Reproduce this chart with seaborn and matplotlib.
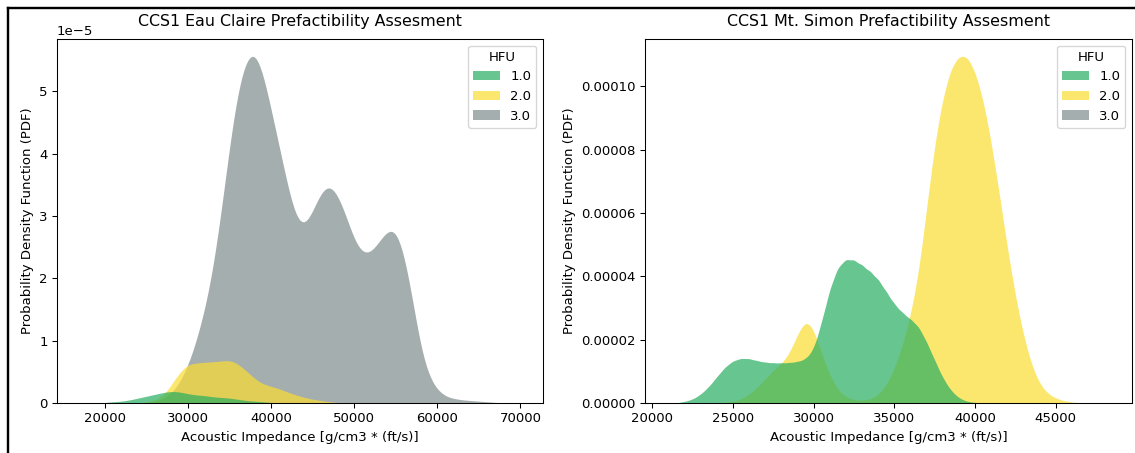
import pandas as pd
import matplotlib
matplotlib.use("Agg")
import matplotlib.pyplot as plt
from matplotlib.lines import Line2D
import seaborn as sns

# ---------------------------------------------------------------
# Eau Claire: density readings (x1e-5) on evenly spaced impedances
# ---------------------------------------------------------------
ec_imp_hfu1 = [20000, 20500, 21000, 21500, 22000, 22500, 23000, 23500, 24000,
               24500, 25000, 25500, 26000, 26500, 27000, 27500, 28000, 28500,
               29000, 29500, 30000, 30500, 31000, 31500, 32000, 32500, 33000,
               33500, 34000, 34500, 35000, 35500, 36000, 36500, 37000, 37500,
               38000, 38500, 39000, 39500, 40000]
ec_pdf_hfu1 = [0.01, 0.015, 0.02, 0.025, 0.03, 0.04, 0.05, 0.065, 0.08, 0.095,
               0.11, 0.125, 0.14, 0.155, 0.17, 0.18, 0.19, 0.185, 0.18, 0.165,
               0.15, 0.14, 0.13, 0.125, 0.12, 0.11, 0.10, 0.095, 0.09, 0.085,
               0.08, 0.07, 0.06, 0.05, 0.04, 0.035, 0.03, 0.025, 0.02, 0.015,
               0.01]

ec_imp_hfu2 = [25000, 25500, 26000, 26500, 27000, 27500, 28000, 28500, 29000,
               29500, 30000, 30500, 31000, 31500, 32000, 32500, 33000, 33500,
               34000, 34500, 35000, 35500, 36000, 36500, 37000, 37500, 38000,
               38500, 39000, 39500, 40000, 40500, 41000, 41500, 42000, 42500,
               43000, 43500, 44000, 44500, 45000, 45500, 46000, 46500, 47000,
               47500, 48000]
ec_pdf_hfu2 = [0.02, 0.03, 0.05, 0.08, 0.13, 0.20, 0.30, 0.40, 0.50, 0.57,
               0.62, 0.64, 0.65, 0.655, 0.66, 0.665, 0.67, 0.675, 0.68, 0.69,
               0.69, 0.67, 0.63, 0.58, 0.52, 0.46, 0.40, 0.35, 0.31, 0.29,
               0.27, 0.25, 0.23, 0.20, 0.18, 0.15, 0.13, 0.11, 0.09, 0.075,
               0.06, 0.05, 0.04, 0.03, 0.02, 0.015, 0.01]

ec_imp_hfu3 = [26000, 27000, 28000, 29000, 30000, 31000, 32000, 33000, 34000,
               35000, 36000, 37000, 38000, 39000, 40000, 41000, 42000, 43000,
               44000, 45000, 46000, 47000, 48000, 49000, 50000, 51000, 52000,
               53000, 54000, 55000, 56000, 57000, 58000, 59000, 60000, 61000,
               62000, 63000, 64000, 65000, 66000, 67000]
ec_pdf_hfu3 = [0.02, 0.06, 0.15, 0.32, 0.60, 1.00, 1.50, 2.15, 3.10, 4.20,
               5.12, 5.62, 5.76, 5.40, 4.75, 4.15, 3.50, 2.95, 2.82, 3.10,
               3.45, 3.58, 3.40, 3.05, 2.62, 2.40, 2.42, 2.62, 2.82, 2.86,
               2.45, 1.70, 0.85, 0.40, 0.20, 0.10, 0.07, 0.05, 0.04, 0.03,
               0.02, 0.01]

# ---------------------------------------------------------------
# Mt. Simon: density readings (x1e-5) on evenly spaced impedances
# ---------------------------------------------------------------
ms_imp_hfu1 = [22000, 22500, 23000, 23500, 24000, 24500, 25000, 25500, 26000,
               26500, 27000, 27500, 28000, 28500, 29000, 29500, 30000, 30500,
               31000, 31500, 32000, 32500, 33000, 33500, 34000, 34500, 35000,
               35500, 36000, 36500, 37000, 37500, 38000, 38500, 39000, 39500,
               40000]
ms_pdf_hfu1 = [0.05, 0.12, 0.28, 0.52, 0.84, 1.15, 1.35, 1.43, 1.42, 1.35,
               1.30, 1.28, 1.28, 1.29, 1.32, 1.40, 1.70, 2.60, 3.65, 4.35,
               4.60, 4.57, 4.40, 4.20, 3.95, 3.55, 3.15, 2.88, 2.68, 2.45,
               1.95, 1.37, 0.80, 0.40, 0.16, 0.05, 0.02]

ms_imp_hfu2 = [24000, 24500, 25000, 25500, 26000, 26500, 27000, 27500, 28000,
               28500, 29000, 29500, 30000, 30500, 31000, 31500, 32000, 32500,
               33000, 33500, 34000, 34500, 35000, 35500, 36000, 36500, 37000,
               37500, 38000, 38500, 39000, 39500, 40000, 40500, 41000, 41500,
               42000, 42500, 43000, 43500, 44000, 44500, 45000, 45500, 46000,
               46500]
ms_pdf_hfu2 = [0.01, 0.02, 0.05, 0.12, 0.27, 0.50, 0.77, 1.05, 1.25, 1.57,
               2.20, 2.70, 2.40, 1.55, 0.88, 0.40, 0.18, 0.10, 0.08, 0.12,
               0.25, 0.55, 1.10, 1.80, 2.80, 4.10, 6.20, 8.30, 9.75, 10.70,
               11.10, 11.10, 10.60, 9.70, 8.35, 6.70, 4.95, 3.40, 2.15, 1.20,
               0.60, 0.30, 0.15, 0.07, 0.03, 0.01]

HFU_ORDER = [1.0, 2.0, 3.0]
HFU_COLORS = {1.0: "#27ae60", 2.0: "#fcdd30", 3.0: "#7f8c8d"}

TITLE_EC = "CCS1 Eau Claire Prefactibility Assesment"
TITLE_MS = "CCS1 Mt. Simon Prefactibility Assesment"
XLABEL = "Acoustic Impedance [g/cm3 * (ft/s)]"
YLABEL = "Probability Density Function (PDF)"


def build_frame(groups):
    """Long-form table; each reading weighted by density x sample spacing."""
    parts = []
    for hfu, imp, pdf in groups:
        step = imp[1] - imp[0]
        parts.append(pd.DataFrame({"impedance": imp,
                                   "weight": [p * step for p in pdf],
                                   "HFU": hfu}))
    return pd.concat(parts, ignore_index=True)


eau_claire = build_frame([(1.0, ec_imp_hfu1, ec_pdf_hfu1),
                          (2.0, ec_imp_hfu2, ec_pdf_hfu2),
                          (3.0, ec_imp_hfu3, ec_pdf_hfu3)])
mt_simon = build_frame([(1.0, ms_imp_hfu1, ms_pdf_hfu1),
                        (2.0, ms_imp_hfu2, ms_pdf_hfu2)])

W, H, DPI = 1135, 453, 95
fig = plt.figure(figsize=(W / DPI, H / DPI), dpi=DPI)
ax1 = fig.add_axes([57 / W, 50 / H, 486 / W, 364 / H])
ax2 = fig.add_axes([645 / W, 50 / H, 487 / W, 364 / H])

panels = [
    (ax1, eau_claire, TITLE_EC, 0.2, (14226, 72712)),
    (ax2, mt_simon, TITLE_MS, 0.15, (19550, 49730)),
]
for ax, df, title, bw, xlim in panels:
    sns.kdeplot(data=df, x="impedance", hue="HFU", weights="weight",
                hue_order=HFU_ORDER, palette=HFU_COLORS, fill=True,
                alpha=0.7, linewidth=0, common_norm=True, bw_adjust=bw,
                ax=ax)
    ax.set_xlim(*xlim)
    ax.set_title(title, pad=10)
    ax.set_xlabel(XLABEL)
    ax.set_ylabel(YLABEL)
    sns.move_legend(ax, "upper right", title="HFU")

# frame lines along the top and left edges of the canvas
lw = 2.4 * 72 / DPI
fig.add_artist(Line2D([7.5 / W, 1.0], [1 - 7.5 / H, 1 - 7.5 / H],
                      transform=fig.transFigure, color="black", lw=lw))
fig.add_artist(Line2D([7.5 / W, 7.5 / W], [0.0, 1 - 7.5 / H],
                      transform=fig.transFigure, color="black", lw=lw))

fig.savefig("out.png", dpi=DPI)
